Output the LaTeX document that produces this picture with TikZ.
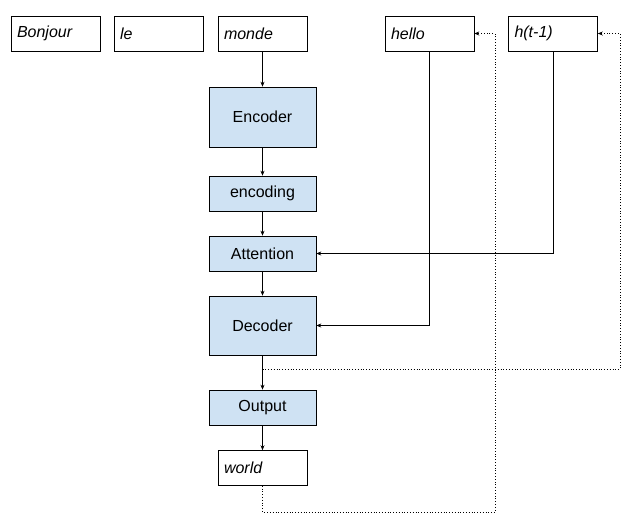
\documentclass[tikz,border=0pt]{standalone}
\usepackage{fontspec}
\setmainfont{Liberation Sans}
\usetikzlibrary{arrows.meta}
\definecolor{lb}{HTML}{CFE2F3}
\begin{document}
\begin{tikzpicture}[x=1pt,y=-1pt,
  word/.style={draw,line width=0.6pt,minimum width=89pt,minimum height=35pt,inner sep=0pt,font=\fontsize{16}{18}\selectfont\itshape,text width=77pt,align=left},
  blk/.style={draw,fill=lb,line width=0.6pt,minimum width=107pt,inner sep=0pt,font=\fontsize{16}{18}\selectfont},
  arr/.style={-{Stealth[length=5pt,width=4pt]},line width=0.6pt},
  dot/.style={-{Stealth[length=5pt,width=4pt]},line width=0.8pt,dotted}]
\useasboundingbox (0,0) rectangle (638,528);
\node[word] (bonjour) at (55.5,33.5) {Bonjour};
\node[word] (le) at (158.5,33.5) {le};
\node[word] (monde) at (262.5,33.5) {monde};
\node[word] (hello) at (429.5,33.5) {hello};
\node[word] (ht) at (553,33.5) {h(t-1)};
\node[blk,minimum height=60pt] (enc) at (262.5,117) {Encoder};
\node[blk,minimum height=35pt] (encg) at (262.5,193.5) {encoding};
\node[blk,minimum height=35pt] (att) at (262.5,253.5) {Attention};
\node[blk,minimum height=59pt] (dec) at (262.5,325.5) {Decoder};
\node[blk,minimum height=35pt] (out) at (262.5,407.5) {Output};
\node[word] (world) at (262.5,468) {world};
\draw[arr] (monde) -- (enc);
\draw[arr] (enc) -- (encg);
\draw[arr] (encg) -- (att);
\draw[arr] (att) -- (dec);
\draw[arr] (dec) -- (out);
\draw[arr] (out) -- (world);
\draw[arr] (ht.south) |- (att.east);
\draw[arr] (hello.south) |- (dec.east);
\coordinate (d1) at (262.5,369);
\coordinate (d2) at (262.5,512);
\draw[dot] (d1) -- (620,369) |- (ht.east);
\draw[dot] (world.south) -- (d2) -- (495,512) |- (hello.east);
\end{tikzpicture}
\end{document}
